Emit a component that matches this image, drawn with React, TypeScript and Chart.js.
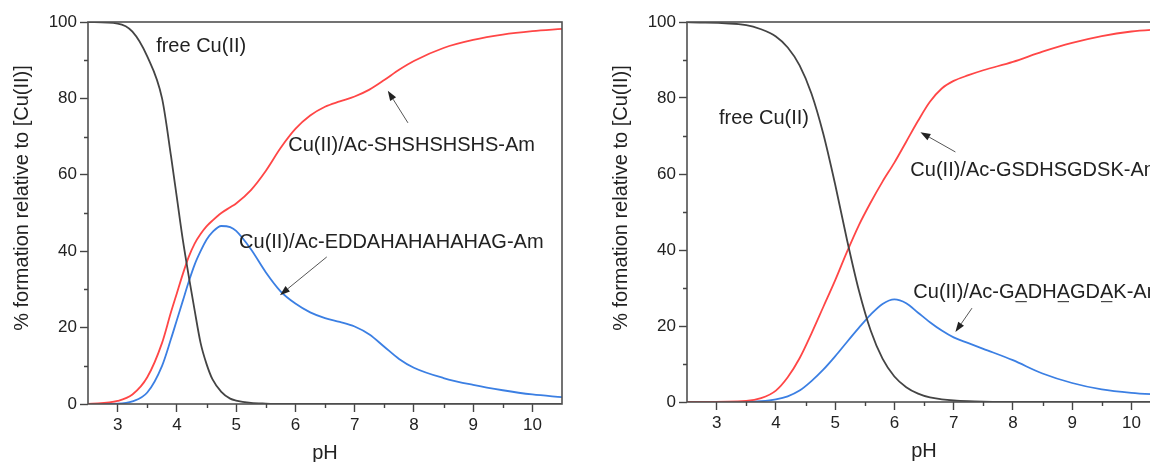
import React, { useEffect, useRef } from "react";
import { Chart, registerables } from "chart.js";

Chart.register(...registerables);

// ---------- Left panel data ----------
const pH_L = [2.5, 3.0, 3.25, 3.5, 3.75, 3.9, 4.0, 4.1, 4.2, 4.3, 4.4, 4.5, 4.6, 4.75, 4.9, 5.0, 5.25, 5.5, 5.75, 6.0, 6.25, 6.5, 6.75, 7.0, 7.25, 7.5, 7.75, 8.0, 8.5, 9.0, 9.5, 10.0, 10.5];
const freeCu_L = [100, 99.6, 97.5, 91, 80, 65, 54, 43, 33.5, 24.5, 16, 10.5, 6.5, 3.2, 1.4, 0.9, 0.3, 0.1, 0, 0, 0, 0, 0, 0, 0, 0, 0, 0, 0, 0, 0, 0, 0];
const shs_L = [0, 0.8, 2.5, 7, 16, 24, 29, 34, 38.5, 42, 44.5, 46.5, 48, 50, 51.5, 52.5, 56, 61, 67, 72, 75.5, 77.8, 79.2, 80.5, 82.3, 84.8, 87.5, 89.8, 93.2, 95.3, 96.7, 97.6, 98.2];
const edda_L = [0, 0.1, 0.7, 3, 10, 17, 22, 27, 32, 36.5, 40, 43, 45, 46.6, 46.3, 45.3, 40.5, 34.5, 29.5, 26.3, 24, 22.5, 21.5, 20.3, 18.2, 15, 11.8, 9.5, 6.8, 5, 3.6, 2.5, 1.8];

// ---------- Right panel data ----------
const pH_R = [2.5, 3.5, 3.75, 4.0, 4.2, 4.4, 4.6, 4.8, 5.0, 5.2, 5.4, 5.6, 5.8, 6.0, 6.2, 6.4, 6.6, 6.8, 7.0, 7.25, 7.5, 8.0, 8.5, 9.0, 9.5, 10.0, 10.5];
const freeCu_R = [100, 99.2, 98.1, 96.2, 93.3, 88.6, 81.2, 70.6, 57.3, 42.7, 29.4, 18.8, 11.4, 6.7, 3.9, 2.2, 1.2, 0.7, 0.4, 0.2, 0.1, 0, 0, 0, 0, 0, 0];
const gsd_R = [0, 0.3, 1, 3, 6.5, 11.5, 18, 25, 32, 39.5, 46.5, 52.5, 58, 63, 68.5, 74, 79, 82.5, 84.5, 86, 87.3, 89.5, 92.2, 94.5, 96.3, 97.5, 98.1];
const gad_R = [0, 0, 0.2, 0.7, 1.5, 3, 5.5, 8.5, 12, 15.8, 19.5, 23, 25.8, 27, 26, 23.5, 21, 18.8, 17, 15.5, 14, 11, 7.5, 5, 3.3, 2.4, 1.9];

// ---------- Axis settings ----------
const X_MIN = 2.5;
const X_MAX = 10.5;
const Y_MIN = 0;
const Y_MAX = 100;
const X_MAJOR = [3, 4, 5, 6, 7, 8, 9, 10];
const Y_MAJOR = [0, 20, 40, 60, 80, 100];
const Y_MINOR = [10, 30, 50, 70, 90];
const X_MINOR = [3.5, 4.5, 5.5, 6.5, 7.5, 8.5, 9.5];

const Y_TITLE = "% formation relative to [Cu(II)]";
const X_TITLE = "pH";

const LABEL_FREE = "free Cu(II)";
const LABEL_SHS = "Cu(II)/Ac-SHSHSHSHS-Am";
const LABEL_EDDA = "Cu(II)/Ac-EDDAHAHAHAHAG-Am";
const LABEL_GSD = "Cu(II)/Ac-GSDHSGDSK-Am";
const LABEL_GAD = "Cu(II)/Ac-GADHAGDAK-Am";
const GAD_UNDERLINE = [11, 14, 17];

const COLOR_FREE = "#444444";
const COLOR_RED = "#ff4646";
const COLOR_BLUE = "#3b7fe3";
const FONT = "'Liberation Sans', Arial, sans-serif";

type Note = {
  text: string;
  x: number;
  y: number;
  underline?: number[];
  arrow?: { x1: number; y1: number; x2: number; y2: number };
};

const notesLeft: Note[] = [
  { text: LABEL_FREE, x: 3.65, y: 93.5 },
  { text: LABEL_SHS, x: 5.88, y: 67.8, arrow: { x1: 7.9, y1: 73.6, x2: 7.56, y2: 82.0 } },
  { text: LABEL_EDDA, x: 5.05, y: 42.4, arrow: { x1: 6.53, y1: 38.5, x2: 5.74, y2: 28.5 } },
];
const notesRight: Note[] = [
  { text: LABEL_FREE, x: 3.04, y: 74.7 },
  { text: LABEL_GSD, x: 6.27, y: 61, arrow: { x1: 7.03, y1: 65.8, x2: 6.44, y2: 71 } },
  { text: LABEL_GAD, x: 6.32, y: 28.9, underline: GAD_UNDERLINE, arrow: { x1: 7.31, y1: 24.7, x2: 7.03, y2: 18.4 } },
];

function pts(xs: number[], ys: number[]) {
  return xs.map((x, i) => ({ x, y: ys[i] }));
}

function lineDs(label: string, xs: number[], ys: number[], color: string) {
  return {
    label,
    data: pts(xs, ys),
    borderColor: color,
    backgroundColor: color,
    borderWidth: 1.8,
    pointRadius: 0,
    cubicInterpolationMode: "monotone" as const,
    fill: false,
  };
}

function makePlugin(notes: Note[]) {
  return {
    id: "decor",
    afterDraw(chart: any) {
      const { ctx, chartArea: a, scales } = chart;
      const xs = scales.x;
      const ys = scales.y;
      ctx.save();
      // frame
      ctx.strokeStyle = "#505050";
      ctx.lineWidth = 1.6;
      ctx.strokeRect(a.left, a.top, a.right - a.left, a.bottom - a.top);
      // minor ticks
      ctx.strokeStyle = "#444";
      ctx.lineWidth = 1.4;
      ctx.beginPath();
      Y_MINOR.forEach((v) => {
        const py = Math.round(ys.getPixelForValue(v)) + 0.5;
        ctx.moveTo(a.left - 4, py);
        ctx.lineTo(a.left, py);
      });
      X_MINOR.forEach((v) => {
        const px = Math.round(xs.getPixelForValue(v)) + 0.5;
        ctx.moveTo(px, a.bottom);
        ctx.lineTo(px, a.bottom + 4);
      });
      ctx.stroke();

      // axis titles
      ctx.fillStyle = "#222";
      ctx.font = `20px ${FONT}`;
      ctx.textAlign = "center";
      ctx.textBaseline = "middle";
      ctx.fillText(X_TITLE, (a.left + a.right) / 2, a.bottom + 49);
      ctx.save();
      ctx.translate(a.left - 66, a.top + 176);
      ctx.rotate(-Math.PI / 2);
      ctx.fillText(Y_TITLE, 0, 0);
      ctx.restore();

      // annotations
      ctx.textAlign = "left";
      notes.forEach((n) => {
        const px = xs.getPixelForValue(n.x);
        const py = ys.getPixelForValue(n.y);
        ctx.fillStyle = "#222";
        ctx.font = `20px ${FONT}`;
        ctx.textBaseline = "middle";
        ctx.fillText(n.text, px, py);
        if (n.underline) {
          ctx.strokeStyle = "#222";
          ctx.lineWidth = 1;
          ctx.beginPath();
          n.underline.forEach((i) => {
            const x0 = px + ctx.measureText(n.text.slice(0, i)).width;
            const w = ctx.measureText(n.text[i]).width;
            ctx.moveTo(x0 + 1, py + 9.5);
            ctx.lineTo(x0 + w - 1, py + 9.5);
          });
          ctx.stroke();
        }
        if (n.arrow) {
          const x1 = xs.getPixelForValue(n.arrow.x1);
          const y1 = ys.getPixelForValue(n.arrow.y1);
          const x2 = xs.getPixelForValue(n.arrow.x2);
          const y2 = ys.getPixelForValue(n.arrow.y2);
          const ang = Math.atan2(y2 - y1, x2 - x1);
          const hl = 10;
          const hw = 3.5;
          const bx = x2 - hl * Math.cos(ang);
          const by = y2 - hl * Math.sin(ang);
          ctx.strokeStyle = "#555";
          ctx.lineWidth = 1;
          ctx.beginPath();
          ctx.moveTo(x1, y1);
          ctx.lineTo(bx, by);
          ctx.stroke();
          ctx.fillStyle = "#222";
          ctx.beginPath();
          ctx.moveTo(x2, y2);
          ctx.lineTo(bx + hw * Math.sin(ang), by - hw * Math.cos(ang));
          ctx.lineTo(bx - hw * Math.sin(ang), by + hw * Math.cos(ang));
          ctx.closePath();
          ctx.fill();
        }
      });
      ctx.restore();
    },
  };
}

function makeConfig(datasets: any[], notes: Note[], yWidth: number, xHeight: number, padRight: number): any {
  return {
    type: "line",
    data: { datasets },
    options: {
      responsive: false,
      animation: false,
      devicePixelRatio: 1,
      layout: { padding: { left: 0, top: 22, right: padRight, bottom: 0 } },
      plugins: { legend: { display: false }, tooltip: { enabled: false }, title: { display: false } },
      events: [],
      scales: {
        x: {
          type: "linear",
          min: X_MIN,
          max: X_MAX,
          afterFit: (s: any) => {
            s.height = xHeight;
          },
          afterBuildTicks: (s: any) => {
            s.ticks = X_MAJOR.map((v) => ({ value: v }));
          },
          ticks: {
            autoSkip: false,
            maxRotation: 0,
            padding: 3,
            color: "#222",
            font: { size: 17, family: FONT },
            callback: (v: any) => String(v),
          },
          grid: { drawOnChartArea: false, drawTicks: true, tickLength: 8, tickColor: "#444", tickWidth: 1.4 },
          border: { display: false },
        },
        y: {
          min: Y_MIN,
          max: Y_MAX,
          afterFit: (s: any) => {
            s.width = yWidth;
          },
          afterBuildTicks: (s: any) => {
            s.ticks = Y_MAJOR.map((v) => ({ value: v }));
          },
          ticks: {
            padding: 3,
            color: "#222",
            font: { size: 17, family: FONT },
            callback: (v: any) => String(v),
          },
          grid: { drawOnChartArea: false, drawTicks: true, tickLength: 8, tickColor: "#444", tickWidth: 1.4 },
          border: { display: false },
        },
      },
    },
    plugins: [makePlugin(notes)],
  };
}

export default function App() {
  const leftRef = useRef<HTMLCanvasElement>(null);
  const rightRef = useRef<HTMLCanvasElement>(null);

  useEffect(() => {
    const left = new Chart(
      leftRef.current!,
      makeConfig(
        [
          lineDs("free Cu(II)", pH_L, freeCu_L, COLOR_FREE),
          lineDs("SHSHSHSHS", pH_L, shs_L, COLOR_RED),
          lineDs("EDDAHAHAHAHAG", pH_L, edda_L, COLOR_BLUE),
        ],
        notesLeft,
        88,
        58,
        18
      )
    );
    const right = new Chart(
      rightRef.current!,
      makeConfig(
        [
          lineDs("free Cu(II)", pH_R, freeCu_R, COLOR_FREE),
          lineDs("GSDHSGDSK", pH_R, gsd_R, COLOR_RED),
          lineDs("GADHAGDAK", pH_R, gad_R, COLOR_BLUE),
        ],
        notesRight,
        107,
        60,
        19
      )
    );
    return () => {
      left.destroy();
      right.destroy();
    };
  }, []);

  return (
    <div
      style={{
        position: "fixed",
        left: 0,
        top: 0,
        width: 1150,
        height: 462,
        overflow: "hidden",
        background: "#fff",
      }}
    >
      <canvas
        ref={leftRef}
        width={580}
        height={462}
        style={{ position: "absolute", left: 0, top: 0, width: 580, height: 462 }}
      />
      <canvas
        ref={rightRef}
        width={600}
        height={462}
        style={{ position: "absolute", left: 580, top: 0, width: 600, height: 462 }}
      />
    </div>
  );
}
